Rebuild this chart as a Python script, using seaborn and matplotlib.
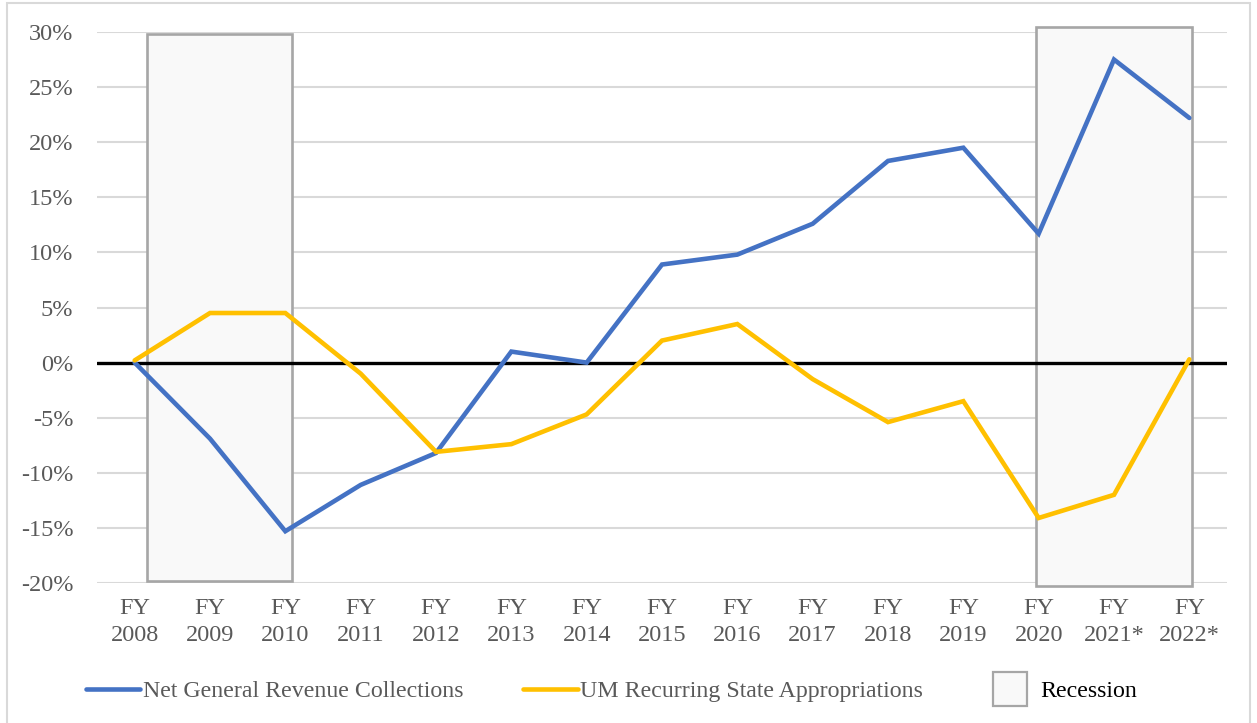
import numpy as np
import pandas as pd
import matplotlib
matplotlib.use("Agg")
import matplotlib.pyplot as plt
import seaborn as sns
from matplotlib.patches import Rectangle
from matplotlib.lines import Line2D
from matplotlib.ticker import FuncFormatter

# data (percent change since FY2008)
years = ["FY\n2008", "FY\n2009", "FY\n2010", "FY\n2011", "FY\n2012", "FY\n2013", "FY\n2014", "FY\n2015",
         "FY\n2016", "FY\n2017", "FY\n2018", "FY\n2019", "FY\n2020", "FY\n2021*", "FY\n2022*"]
net_revenue = [0.0, -6.9, -15.3, -11.1, -8.2, 1.0, 0.0, 8.9, 9.8, 12.6, 18.3, 19.5, 11.7, 27.5, 22.2]
um_approp = [0.2, 4.5, 4.5, -1.0, -8.1, -7.4, -4.7, 2.0, 3.5, -1.5, -5.4, -3.5, -14.1, -12.0, 0.3]
series_names = ["Net General Revenue Collections", "UM Recurring State Appropriations"]
y_ticks = [30, 25, 20, 15, 10, 5, 0, -5, -10, -15, -20]

# recession shading (category index span, y span)
recessions = [(0.17, 2.085, -19.8, 29.8), (11.97, 14.03, -20.3, 30.45)]

blue = "#4472C4"
gold = "#FFC000"
gray_txt = "#595959"

df = pd.DataFrame({
    "x": list(range(len(years))) * 2,
    "value": net_revenue + um_approp,
    "series": [series_names[0]] * len(years) + [series_names[1]] * len(years),
})

sns.set_theme(style="white")
plt.rcParams["font.family"] = ["Liberation Serif", "DejaVu Serif"]

fig = plt.figure(figsize=(12.57, 7.23), dpi=100)
ax = fig.add_axes([97 / 1257, 1 - 583 / 723, (1227 - 97) / 1257, (583 - 32) / 723])

# outer chart frame
fig.add_artist(Rectangle((7 / 1257, -0.01), (1250 - 7) / 1257, 1 - 3 / 723 + 0.01,
                         transform=fig.transFigure, fill=False, edgecolor="#d9d9d9", lw=1.5))

for y in y_ticks:
    if y != 0:
        ax.axhline(y, color="#d9d9d9", lw=1.5, zorder=0)

for x0, x1, y0, y1 in recessions:
    ax.add_patch(Rectangle((x0, y0), x1 - x0, y1 - y0, facecolor="#f9f9f9",
                           edgecolor="#a6a6a6", lw=1.9, zorder=1, clip_on=False))

ax.axhline(0, color="black", lw=2.4, zorder=2)

sns.lineplot(data=df, x="x", y="value", hue="series", palette=[blue, gold],
             lw=3.3, ax=ax, legend=False, zorder=3)
for line in ax.lines[-2:]:
    line.set_solid_joinstyle("miter")

ax.set_xlim(-0.5, len(years) - 0.5)
ax.set_ylim(-20, 30)
ax.set_xticks(range(len(years)))
ax.set_xticklabels(years, linespacing=1.35)
ax.set_yticks(y_ticks)
ax.yaxis.set_major_formatter(FuncFormatter(lambda v, p: f"{v:.0f}%"))
ax.tick_params(axis="both", length=0, labelsize=17.5, labelcolor=gray_txt)
ax.tick_params(axis="y", pad=17)
ax.tick_params(axis="x", pad=11)
ax.set_xlabel("")
ax.set_ylabel("")
for s in ax.spines.values():
    s.set_visible(False)

handles = [
    Line2D([], [], color=blue, lw=3.3),
    Line2D([], [], color=gold, lw=3.3),
    Line2D([], [], ls="none", marker="s", markersize=24, markerfacecolor="#f9f9f9",
           markeredgecolor="#a6a6a6", markeredgewidth=1.6),
]
leg = fig.legend(handles, series_names + ["Recession"], ncol=3, loc="center left",
                 bbox_to_anchor=(64 / 1257, 1 - 691 / 723), frameon=False, fontsize=17.2,
                 handlelength=2.3, handletextpad=0.1, columnspacing=2.5)
for t in leg.get_texts()[:2]:
    t.set_color(gray_txt)
leg.get_texts()[2].set_color("black")

fig.savefig("out.png", dpi=100)
